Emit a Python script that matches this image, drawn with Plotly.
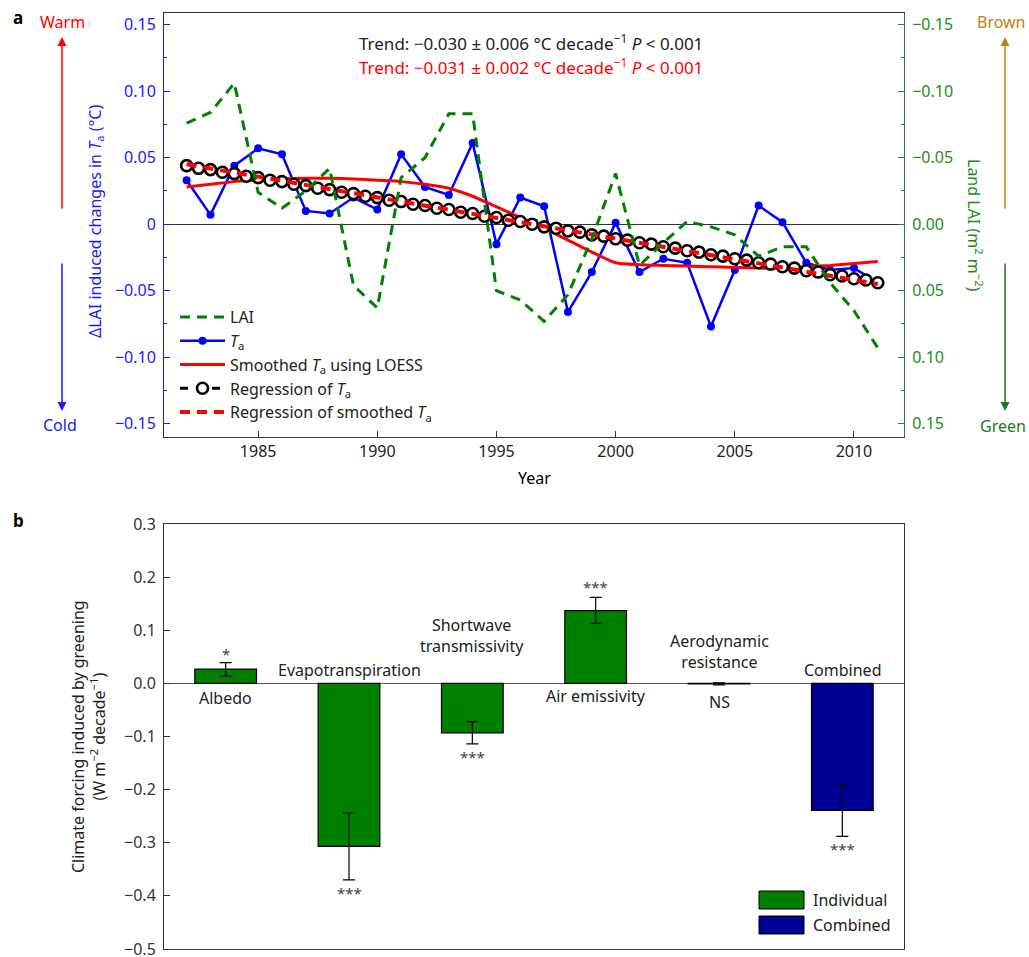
import plotly.graph_objects as go

# ---------------- data: panel a ----------------
years = [1982, 1983, 1984, 1985, 1986, 1987, 1988, 1989, 1990, 1991,
         1992, 1993, 1994, 1995, 1996, 1997, 1998, 1999, 2000, 2001,
         2002, 2003, 2004, 2005, 2006, 2007, 2008, 2009, 2010, 2011]
ta = [0.033, 0.007, 0.044, 0.057, 0.0525, 0.010, 0.008, 0.020, 0.011, 0.0525,
      0.028, 0.022, 0.061, -0.015, 0.020, 0.0135, -0.066, -0.036, 0.001, -0.036,
      -0.026, -0.029, -0.077, -0.0345, 0.014, 0.0015, -0.029, -0.0345, -0.033, -0.044]
lai = [-0.076, -0.084, -0.106, -0.024, -0.012, -0.025, -0.042, 0.046, 0.063, -0.035,
       -0.050, -0.083, -0.083, 0.050, 0.057, 0.073, 0.053, 0.011, -0.038, 0.031,
       0.014, -0.002, 0.002, 0.008, 0.024, 0.017, 0.017, 0.044, 0.065, 0.093]
ta_loess = [0.028, 0.030, 0.032, 0.033, 0.034, 0.0345, 0.0345, 0.034, 0.033, 0.032,
            0.030, 0.027, 0.021, 0.013, 0.005, -0.003, -0.012, -0.021, -0.029, -0.0305,
            -0.031, -0.0315, -0.032, -0.0325, -0.033, -0.033, -0.032, -0.031, -0.0295, -0.028]
reg_years = [1982, 1982.5, 1983, 1983.5, 1984, 1984.5, 1985, 1985.5, 1986, 1986.5,
             1987, 1987.5, 1988, 1988.5, 1989, 1989.5, 1990, 1990.5, 1991, 1991.5,
             1992, 1992.5, 1993, 1993.5, 1994, 1994.5, 1995, 1995.5, 1996, 1996.5,
             1997, 1997.5, 1998, 1998.5, 1999, 1999.5, 2000, 2000.5, 2001, 2001.5,
             2002, 2002.5, 2003, 2003.5, 2004, 2004.5, 2005, 2005.5, 2006, 2006.5,
             2007, 2007.5, 2008, 2008.5, 2009, 2009.5, 2010, 2010.5, 2011]
reg_ta = [0.044, 0.042, 0.041, 0.039, 0.038, 0.036, 0.035, 0.033, 0.032, 0.030,
          0.029, 0.027, 0.026, 0.024, 0.023, 0.021, 0.020, 0.018, 0.017, 0.015,
          0.014, 0.012, 0.011, 0.009, 0.008, 0.006, 0.005, 0.003, 0.002, 0.000,
          -0.002, -0.003, -0.005, -0.006, -0.008, -0.009, -0.011, -0.012, -0.014, -0.015,
          -0.017, -0.018, -0.020, -0.021, -0.023, -0.024, -0.026, -0.027, -0.029, -0.030,
          -0.032, -0.033, -0.035, -0.036, -0.038, -0.039, -0.041, -0.042, -0.044]
reg_smooth_years = [1982, 2011]
reg_smooth = [0.045, -0.045]

left_tickvals = [-0.15, -0.10, -0.05, 0, 0.05, 0.10, 0.15]
left_ticktext = ["\u22120.15", "\u22120.10", "\u22120.05", "0", "0.05", "0.10", "0.15"]
right_ticktext = ["\u22120.15", "\u22120.10", "\u22120.05", "0.00", "0.05", "0.10", "0.15"]
year_ticks = [1985, 1990, 1995, 2000, 2005, 2010]

# ---------------- data: panel b ----------------
categories = ["Albedo", "Evapotranspiration", "Shortwave transmissivity",
              "Air emissivity", "Aerodynamic resistance", "Combined"]
forcing = [0.027, -0.307, -0.093, 0.137, -0.001, -0.239]
err_plus = [0.012, 0.063, 0.021, 0.025, 0.002, 0.048]
err_minus = [0.014, 0.063, 0.021, 0.024, 0.002, 0.049]
signif = ["*", "***", "***", "***", "NS", "***"]
b_tickvals = [-0.5, -0.4, -0.3, -0.2, -0.1, 0.0, 0.1, 0.2, 0.3]
b_ticktext = ["\u22120.5", "\u22120.4", "\u22120.3", "\u22120.2", "\u22120.1",
              "0.0", "0.1", "0.2", "0.3"]

W, H = 1029, 957
def px(v): return v / W
def py(v): return 1 - v / H

FONT = "Noto Sans"
BLUE = "#1a1aff"
RED = "#ff0000"
GREEN = "#008000"
GREEN_T = "#1e8c1e"
BROWN = "#b8860b"
DKGREEN = "#1a7a1a"
IND = "#007f00"
COMB = "#000096"
TXT = "#222222"

fig = go.Figure()

fig.add_trace(go.Scatter(x=years, y=lai, name="LAI", mode="lines", yaxis="y3", xaxis="x",
                         line=dict(color=GREEN, width=3, dash="10px,7px"), legend="legend"))
fig.add_trace(go.Scatter(x=years, y=ta, name="<i>T</i><sub>a</sub>", mode="lines+markers",
                         line=dict(color="#0000ff", width=2.5), marker=dict(color="#0000ff", size=8),
                         legend="legend"))
fig.add_trace(go.Scatter(x=years, y=ta_loess, name="Smoothed <i>T</i><sub>a</sub> using LOESS",
                         mode="lines", line=dict(color=RED, width=3, shape="spline", smoothing=0.6),
                         legend="legend"))
fig.add_trace(go.Scatter(x=reg_years, y=reg_ta, name="Regression of <i>T</i><sub>a</sub>",
                         mode="lines+markers", line=dict(color="black", width=3, dash="8px,8px"),
                         marker=dict(symbol="circle", size=11, color="white",
                                     line=dict(color="black", width=2.6)),
                         legend="legend"))
fig.add_trace(go.Scatter(x=reg_smooth_years, y=reg_smooth,
                         name="Regression of smoothed <i>T</i><sub>a</sub>",
                         mode="lines", line=dict(color=RED, width=4, dash="10px,7px"),
                         legend="legend"))

# panel b bars
fig.add_trace(go.Bar(x=categories[:5], y=forcing[:5], xaxis="x2", yaxis="y2",
                     name="Individual", width=0.5,
                     marker=dict(color=IND, line=dict(color="black", width=1.2)),
                     error_y=dict(type="data", array=err_plus[:5], arrayminus=err_minus[:5],
                                  color="black", thickness=1.2, width=6),
                     showlegend=False))
fig.add_trace(go.Bar(x=categories[5:], y=forcing[5:], xaxis="x2", yaxis="y2",
                     name="Combined", width=0.5,
                     marker=dict(color=COMB, line=dict(color="black", width=1.2)),
                     error_y=dict(type="data", array=err_plus[5:], arrayminus=err_minus[5:],
                                  color="black", thickness=1.2, width=6),
                     showlegend=False))

ann = []
def A(x, y, text, size=16, color=TXT, xanchor="center", yanchor="middle", **kw):
    d = dict(x=x, y=y, xref="paper", yref="paper", text=text, showarrow=False,
             xanchor=xanchor, yanchor=yanchor,
             font=dict(family=FONT, size=size, color=color))
    d.update(kw)
    ann.append(d)

# panel labels
A(px(18), py(17), "<b>a</b>", size=17, color="black")
A(px(18), py(520), "<b>b</b>", size=17, color="black")
# trend text
A(px(357), py(43), "Trend: \u22120.030 \u00b1 0.006 \u00b0C decade<sup>\u22121</sup> <i>P</i> < 0.001",
  size=17, color="#222222", xanchor="left")
A(px(357), py(66), "Trend: \u22120.031 \u00b1 0.002 \u00b0C decade<sup>\u22121</sup> <i>P</i> < 0.001",
  size=17, color=RED, xanchor="left")
# axis titles panel a
A(px(95), py(222), "\u0394LAI induced changes in <i>T</i><sub>a</sub> (\u00b0C)", size=16,
  color=BLUE, textangle=-90)
A(px(975), py(225), "Land LAI (m<sup>2</sup> m<sup>\u22122</sup>)", size=16, color=GREEN_T,
  textangle=90)
A(px(534), py(478), "Year", size=16, color="black")
# warm / cold / brown / green
A(px(62), py(22), "Warm", size=16, color=RED)
A(px(60), py(425), "Cold", size=16, color=BLUE)
A(px(1028), py(22), "Brown", size=16, color=BROWN, xanchor="right")
A(px(1028), py(426), "Green", size=16, color=DKGREEN, xanchor="right")
for xx, y0, y1, c in [(62, 210, 37, RED), (62, 262, 411, BLUE),
                      (1005, 210, 37, BROWN), (1005, 262, 411, DKGREEN)]:
    ann.append(dict(x=px(xx), y=py(y1), xref="paper", yref="paper", ax=0, ay=y0 - y1,
                    axref="pixel", ayref="pixel", text="", showarrow=True, arrowhead=2,
                    arrowsize=1.2, arrowwidth=1.5, arrowcolor=c))
# panel b y-title
A(px(88), py(737), "Climate forcing induced by greening<br>(W m<sup>\u22122</sup> decade<sup>\u22121</sup>)",
  size=16, color=TXT, textangle=-90)

# panel b category labels (data coords)
def B(cat, y, text, yanchor, yshift, size=16, color=TXT):
    ann.append(dict(x=cat, y=y, xref="x2", yref="y2", text=text, showarrow=False,
                    xanchor="center", yanchor=yanchor, yshift=yshift,
                    font=dict(family=FONT, size=size, color=color)))

B(categories[0], 0, "Albedo", "top", -2)
B(categories[1], 0, "Evapotranspiration", "bottom", 0)
B(categories[2], 0, "Shortwave<br>transmissivity", "bottom", 24)
B(categories[3], 0, "Air emissivity", "top", 0)
B(categories[4], 0, "Aerodynamic<br>resistance", "bottom", 8)
B(categories[5], 0, "Combined", "bottom", 0)
# significance
B(categories[0], forcing[0] + err_plus[0], signif[0], "bottom", -3, size=15, color="#444")
B(categories[1], forcing[1] - err_minus[1], signif[1], "top", -1, size=15, color="#444")
B(categories[2], forcing[2] - err_minus[2], signif[2], "top", -1, size=15, color="#444")
B(categories[3], forcing[3] + err_plus[3], signif[3], "bottom", -2, size=15, color="#444")
B(categories[4], 0, signif[4], "top", -6, size=16, color=TXT)
B(categories[5], forcing[5] - err_minus[5], signif[5], "top", -1, size=15, color="#444")

# panel b legend (manual)
shapes = []
for (yt, col, lab) in [(891, IND, "Individual"), (916, COMB, "Combined")]:
    shapes.append(dict(type="rect", xref="paper", yref="paper", x0=px(759), x1=px(804),
                       y0=py(yt + 18), y1=py(yt), fillcolor=col, line=dict(color="black", width=1)))
    A(px(811), py(yt + 9), lab, size=16, color=TXT, xanchor="left")

fig.update_layout(
    width=W, height=H, margin=dict(l=0, r=0, t=0, b=0, autoexpand=False),
    paper_bgcolor="white", plot_bgcolor="white",
    font=dict(family=FONT, size=16, color=TXT),
    barmode="overlay",
    xaxis=dict(domain=[px(164), px(904)], anchor="y", range=[1981.05, 2012.1],
               tickvals=year_ticks, ticks="inside", ticklen=6, tickcolor="#333",
               showline=True, mirror=True, linecolor="#333", linewidth=1,
               showgrid=False, zeroline=False, tickfont=dict(family=FONT, size=16, color="#222")),
    yaxis=dict(domain=[py(437), py(12.7)], anchor="x", range=[-0.16, 0.159],
               tickvals=left_tickvals, ticktext=left_ticktext, ticks="inside", ticklen=6,
               tickcolor=BLUE, showline=True, linecolor=BLUE, linewidth=1,
               showgrid=False, zeroline=True, zerolinecolor="#333", zerolinewidth=1,
               tickfont=dict(family=FONT, size=16, color=BLUE), ticklabelstandoff=4,
               minor=dict(dtick=0.025, tick0=0, ticks="inside", ticklen=3, tickcolor=BLUE)),
    yaxis3=dict(overlaying="y", side="right", anchor="x", range=[0.16, -0.159],
                tickvals=left_tickvals, ticktext=right_ticktext, ticks="inside", ticklen=6,
                tickcolor="#2a7a5a", showline=True, linecolor=GREEN_T, linewidth=1,
                showgrid=False, zeroline=False,
                tickfont=dict(family=FONT, size=16, color=GREEN_T), ticklabelstandoff=4,
                minor=dict(dtick=0.025, tick0=0, ticks="inside", ticklen=3, tickcolor=GREEN_T)),
    xaxis2=dict(domain=[px(164), px(904)], anchor="y2", type="category",
                categoryorder="array", categoryarray=categories, range=[-0.5, 5.5],
                showticklabels=False, ticks="", showline=True, mirror=True,
                linecolor="#333", linewidth=1, showgrid=False, zeroline=False),
    yaxis2=dict(domain=[py(949), py(524)], anchor="x2", range=[-0.5, 0.3],
                tickvals=b_tickvals, ticktext=b_ticktext, ticks="inside", ticklen=6,
                tickcolor="#333", ticklabeloverflow="allow",
                showline=True, mirror=True, linecolor="#333", linewidth=1,
                showgrid=False, zeroline=True, zerolinecolor="#555", zerolinewidth=1,
                tickfont=dict(family=FONT, size=16, color="#333"), ticklabelstandoff=4),
    legend=dict(x=px(175), y=py(300), xanchor="left", yanchor="top",
                bgcolor="rgba(0,0,0,0)", font=dict(family=FONT, size=16, color=TXT),
                itemwidth=45, tracegroupgap=0, traceorder="normal"),
    annotations=ann, shapes=shapes,
)

# remove the default 8px page margin so the figure fills the window exactly
fig.write_html("out.html", config={"displayModeBar": False},
               post_script="document.body.style.margin='0px';")
